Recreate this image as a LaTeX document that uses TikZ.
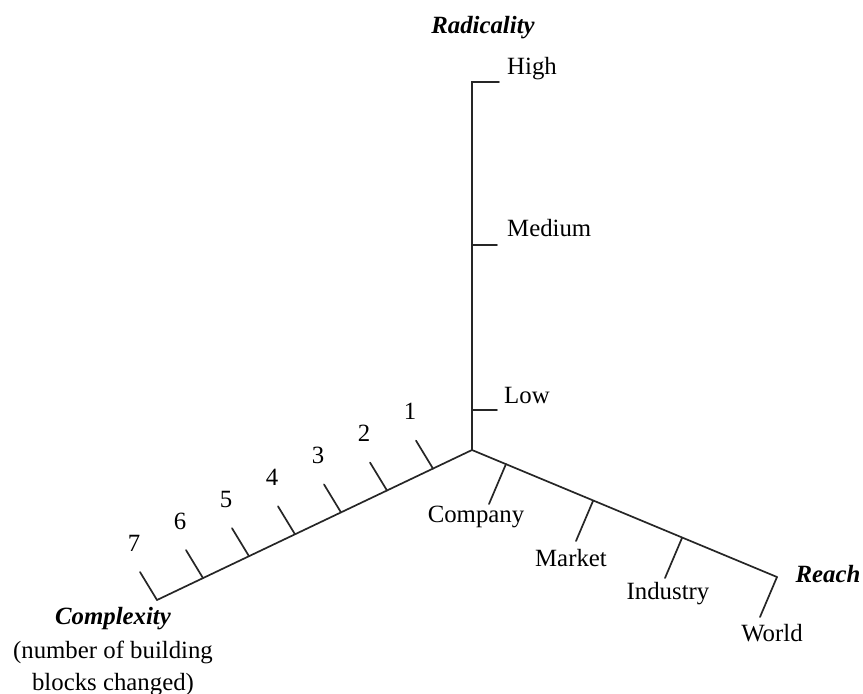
\documentclass[tikz,border=0pt]{standalone}
\usepackage{fontspec}
\setmainfont{Liberation Serif}
\usetikzlibrary{calc}
\begin{document}
\begin{tikzpicture}[x=1pt,y=-1pt,
  axis/.style={line width=1.7pt,draw=black!85,line cap=round},
  lbl/.style={inner sep=0pt,font=\fontsize{24.8}{32}\selectfont},
  ttl/.style={inner sep=0pt,font=\fontsize{24.8}{32}\selectfont\bfseries\itshape}]
\useasboundingbox (0,0) rectangle (863,694);
% origin
\coordinate (O) at (472,450);
% Radicality axis
\coordinate (Rtop) at (472,82);
\coordinate (RtopT) at (499,82);
\coordinate (Rmed) at (472,245);
\coordinate (RmedT) at (497,245);
\coordinate (Rlow) at (472,410);
\coordinate (RlowT) at (497,410);
\draw[axis] (O) -- (Rtop) -- (RtopT);
\draw[axis] (Rmed) -- (RmedT);
\draw[axis] (Rlow) -- (RlowT);
\node[ttl] (radt) at (483,28) {Radicality};
\node[lbl,anchor=west] (high) at (507,69) {High};
\node[lbl,anchor=west] (medium) at (507,228) {Medium};
\node[lbl,anchor=west] (low) at (504,395) {Low};
% Complexity axis
\coordinate (C7) at (157,600);
\draw[axis] (O) -- (C7);
\foreach \k/\x/\y in {1/433/468.6,2/387/490.5,3/341/512.4,4/295/534.3,5/249/556.2,6/203/578.1,7/157/600}{
  \coordinate (Cb\k) at (\x,\y);
  \coordinate (Ct\k) at ($(Cb\k)+(-17,-28)$);
  \draw[axis] (Cb\k) -- (Ct\k);
  \node[lbl] (Cl\k) at ($(Ct\k)+(-6,-29)$) {\k};
}
\node[ttl] (compt) at (113,619) {Complexity};
\node[lbl,align=center] (compsub) at (113,668) {(number of building\\blocks changed)};
% Reach axis
\coordinate (Rw) at (777,577);
\draw[axis] (O) -- (Rw);
\foreach \n/\x/\y/\t/\lx/\ly in {a/506/464/Company/476/517, b/593/501/Market/571/558, c/682/538/Industry/668/594, d/777/577/World/772/633}{
  \coordinate (Sb\n) at (\x,\y);
  \coordinate (St\n) at ($(Sb\n)+(-17,40)$);
  \draw[axis] (Sb\n) -- (St\n);
  \node[lbl] (Sl\n) at (\lx,\ly) {\t};
}
\node[ttl] (reacht) at (828,574) {Reach};
\end{tikzpicture}
\end{document}
